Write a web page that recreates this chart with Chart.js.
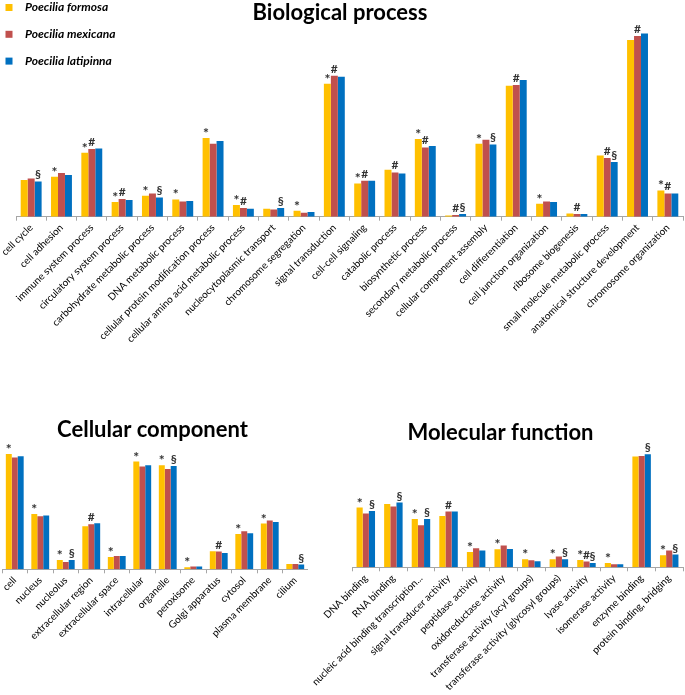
<!DOCTYPE html>
<html>
<head>
<meta charset="utf-8">
<script src="https://cdn.jsdelivr.net/npm/chart.js@4.4.1/dist/chart.umd.min.js"></script>
<style>
html, body { margin: 0; padding: 0; background: #fff; }
#wrap { position: relative; width: 685px; height: 695px; overflow: hidden; }
canvas { position: absolute; }
</style>
</head>
<body>
<div id="wrap">
<canvas id="bp" width="690" height="400" style="left:-5px;top:0"></canvas>
<canvas id="cc" width="311" height="290" style="left:-3px;top:405px"></canvas>
<canvas id="mf" width="385" height="290" style="left:300px;top:405px"></canvas>
</div>
<script>
const species = ['Poecilia formosa', 'Poecilia mexicana', 'Poecilia latipinna'];
const speciesColors = ['#FFC000', '#C0504D', '#0070C0'];
// which species a significance mark belongs to
const markSeries = { '*': 0, '#': 1, '§': 2 };

const bpLabels = ['cell cycle', 'cell adhesion', 'immune system process', 'circulatory system process',
    'carbohydrate metabolic process', 'DNA metabolic process', 'cellular protein modification process',
    'cellular amino acid metabolic process', 'nucleocytoplasmic transport', 'chromosome segregation',
    'signal transduction', 'cell-cell signaling', 'catabolic process', 'biosynthetic process',
    'secondary metabolic process', 'cellular component assembly', 'cell differentiation',
    'cell junction organization', 'ribosome biogenesis', 'small molecule metabolic process',
    'anatomical structure development', 'chromosome organization'];
const bpFormosa = [36.7, 40, 64, 14.7, 21, 17.3, 78.7, 11.7, 8, 6, 133, 33.3, 47, 77.7, 1.3, 73, 131, 13, 3.3, 61.3, 176.7, 26.3];
const bpMexicana = [38.3, 43.7, 67.7, 17.7, 23.3, 15.3, 73, 8.7, 7.3, 4, 141, 36, 44.3, 69.3, 1.7, 77, 131.7, 15.3, 2.7, 58.7, 180.7, 23.3];
const bpLatipinna = [35.3, 41.7, 68.3, 16.7, 19.3, 15.7, 75.7, 8, 8.7, 4.7, 140, 36, 43.3, 70.7, 2.7, 72.3, 136.7, 14.7, 2.7, 54.7, 183.3, 23.3];
const bpMarks = ['§', '*', '*#', '*#', '*§', '*', '*', '*#', '§', '*', '*#', '*#', '#', '*#', '#§', '*§', '#', '*', '#', '#§', '#', '*#'];

const ccLabels = ['cell', 'nucleus', 'nucleolus', 'extracellular region', 'extracellular space', 'intracellular',
    'organelle', 'peroxisome', 'Golgi apparatus', 'cytosol', 'plasma membrane', 'cilium'];
const ccFormosa = [115.3, 55.3, 9.3, 43, 12.3, 107.7, 104, 2, 18, 35.3, 45.7, 5.3];
const ccMexicana = [111.7, 53, 7.3, 45, 13.3, 102.7, 100.3, 2.7, 17.7, 38, 48.7, 5.3];
const ccLatipinna = [113, 53.7, 9.3, 46, 13.3, 104, 103.3, 2.7, 16.3, 36, 47.3, 4.7];
const ccMarks = ['*', '*', '*§', '#', '*', '*', '*§', '*', '#', '*', '*', '§'];

const mfLabels = ['DNA binding', 'RNA binding', 'nucleic acid binding transcription...', 'signal transducer activity',
    'peptidase activity', 'oxidoreductase activity', 'transferase activity (acyl groups)',
    'transferase activity (glycosyl groups)', 'lyase activity', 'isomerase activity', 'enzyme binding',
    'protein binding, bridging'];
const mfFormosa = [59.7, 63.3, 48.3, 51.3, 15.3, 18, 8, 8, 7.3, 4.3, 110.7, 12];
const mfMexicana = [53.7, 60.7, 42, 55.7, 19, 21.7, 7, 10.7, 5.7, 3, 111.3, 16.7];
const mfLatipinna = [56.3, 64.7, 48.3, 55.7, 16.7, 18.3, 6, 8, 4.3, 3, 113, 12.7];
const mfMarks = ['*§', '§', '*§', '#', '*', '*', '*', '*§', '*#§', '*', '§', '*§'];

const legendPlugin = {
    id: 'sideLegend',
    afterDraw(chart) {
        const ctx = chart.ctx;
        ctx.save();
        ctx.font = 'italic bold 12px Lato';
        ctx.textBaseline = 'middle';
        chart.data.datasets.forEach(function (ds, i) {
            const y = 7.5 + i * 26.8;
            ctx.fillStyle = ds.backgroundColor;
            ctx.fillRect(10.5, y - 3.5, 7, 7);
            ctx.fillStyle = '#000';
            ctx.fillText(ds.label, 30, y);
        });
        ctx.restore();
    }
};

function makeChart(id, labels, series, marks, o) {
    const markPlugin = {
        id: 'marks',
        afterDatasetsDraw(chart) {
            const ctx = chart.ctx;
            ctx.save();
            ctx.fillStyle = '#333';
            ctx.textAlign = 'center';
            ctx.textBaseline = 'alphabetic';
            marks.forEach(function (m, i) {
                for (const ch of m) {
                    const bar = chart.getDatasetMeta(markSeries[ch]).data[i];
                    ctx.font = ch === '*' ? 'bold 14px Lato' : 'bold 12px Lato';
                    ctx.fillText(ch, bar.x, bar.y - (ch === '*' ? 0 : 3));
                }
            });
            ctx.restore();
        }
    };
    const plugins = [markPlugin];
    if (o.legend) plugins.push(legendPlugin);

    return new Chart(document.getElementById(id), {
        type: 'bar',
        data: {
            labels: labels,
            datasets: series.map(function (data, i) {
                return {
                    label: species[i],
                    data: data,
                    backgroundColor: speciesColors[i],
                    barPercentage: 1,
                    categoryPercentage: o.catPct,
                };
            }),
        },
        options: {
            responsive: false,
            animation: false,
            layout: { padding: { left: o.titleLeft, right: o.titleRight, top: 0, bottom: 0 } },
            plugins: {
                legend: { display: false },
                tooltip: { enabled: false },
                title: {
                    display: true,
                    text: o.title,
                    color: '#000',
                    font: { family: 'Lato', size: o.titleSize, weight: 'bold' },
                    padding: { top: o.titleTop, bottom: o.titleBottom },
                },
            },
            scales: {
                x: {
                    afterFit: function (scale) {
                        scale.height = o.axisHeight;
                        scale.paddingLeft = o.padLeft;
                        scale.paddingRight = o.padRight;
                    },
                    grid: { drawOnChartArea: false, drawTicks: true, tickLength: 4, color: '#a6a6a6' },
                    border: { color: '#a6a6a6' },
                    ticks: {
                        autoSkip: false,
                        minRotation: 45,
                        maxRotation: 45,
                        padding: 1,
                        color: '#000',
                        font: { family: 'Lato', size: 10 },
                    },
                },
                y: {
                    display: false,
                    min: 0,
                    max: o.yMax,
                },
            },
        },
        plugins: plugins,
    });
}

makeChart('bp', bpLabels, [bpFormosa, bpMexicana, bpLatipinna], bpMarks, {
    title: 'Biological process', titleSize: 22, titleTop: 0, titleBottom: 3.6,
    titleLeft: 0, titleRight: 0, padLeft: 21, padRight: 2,
    axisHeight: 183.3, yMax: 186.7, catPct: 0.69, legend: true,
});
makeChart('cc', ccLabels, [ccFormosa, ccMexicana, ccLatipinna], ccMarks, {
    title: 'Cellular component', titleSize: 22, titleTop: 11.3, titleBottom: 7.3,
    titleLeft: 0, titleRight: 0, padLeft: 5, padRight: 0,
    axisHeight: 125.7, yMax: 119.3, catPct: 0.7,
});
makeChart('mf', mfLabels, [mfFormosa, mfMexicana, mfLatipinna], mfMarks, {
    title: 'Molecular function', titleSize: 22, titleTop: 14.6, titleBottom: 4,
    titleLeft: 16, titleRight: 0, padLeft: 52, padRight: 2,
    axisHeight: 127.7, yMax: 117.3, catPct: 0.67,
});
</script>
</body>
</html>
